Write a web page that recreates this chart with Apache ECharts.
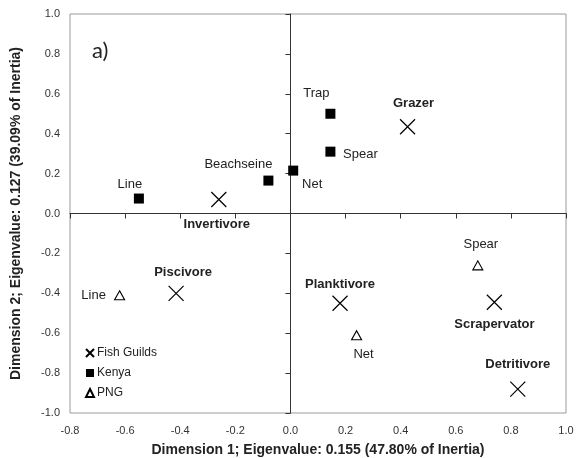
<!DOCTYPE html>
<html><head><meta charset="utf-8">
<script src="https://cdn.jsdelivr.net/npm/echarts@6/dist/echarts.min.js"></script>
<style>html,body{margin:0;padding:0;background:#fff}#c{width:579px;height:458px}</style>
</head><body><div id="c"></div>
<script>
// ---- data ----
const guildNames = ['Invertivore', 'Grazer', 'Piscivore', 'Planktivore', 'Scrapervator', 'Detritivore'];
const guildX = [-0.26, 0.425, -0.415, 0.18, 0.74, 0.825];
const guildY = [0.07, 0.435, -0.40, -0.45, -0.445, -0.88];

const kenyaNames = ['Line', 'Beachseine', 'Net', 'Trap', 'Spear'];
const kenyaX = [-0.55, -0.08, 0.01, 0.145, 0.145];
const kenyaY = [0.075, 0.165, 0.215, 0.50, 0.31];

const pngNames = ['Line', 'Spear', 'Net'];
const pngX = [-0.62, 0.68, 0.24];
const pngY = [-0.41, -0.26, -0.61];

const seriesNames = ['Fish Guilds', 'Kenya', 'PNG'];
const xTicks = [-0.8, -0.6, -0.4, -0.2, 0.0, 0.2, 0.4, 0.6, 0.8, 1.0];
const yTicks = [-1.0, -0.8, -0.6, -0.4, -0.2, 0.0, 0.2, 0.4, 0.6, 0.8, 1.0];
const xTitle = 'Dimension 1; Eigenvalue: 0.155 (47.80% of Inertia)';
const yTitle = 'Dimension 2; Eigenvalue: 0.127 (39.09% of Inertia)';
const panelLabel = 'a)';

// ---- label placement (styling) ----
const guildOffsets = [[-2, 25], [6, -23], [7, -21], [0, -19], [0, 22], [0, -25]];
const kenyaOffsets = [[-9, -14], [-30, -16], [19, 14], [-14, -20], [30, 3]];
const pngOffsets = [[-26, 0], [3, -21], [7, 19]];

const FONT = 'Liberation Sans, Arial, sans-serif';

function pts(names, xs, ys, offs, bold) {
  return names.map((n, i) => ({
    name: n,
    value: [xs[i], ys[i]],
    label: {
      show: true, position: 'inside', offset: offs[i], formatter: n,
      color: '#222', fontSize: 13, fontFamily: FONT,
      fontWeight: bold ? 'bold' : 'normal'
    }
  }));
}

const xMin = xTicks[0], xMax = xTicks[xTicks.length - 1];
const yMin = yTicks[0], yMax = yTicks[yTicks.length - 1];
const xStep = +(xTicks[1] - xTicks[0]).toFixed(3);
const yStep = +(yTicks[1] - yTicks[0]).toFixed(3);

const chart = echarts.init(document.getElementById('c'), null, { renderer: 'canvas' });
chart.setOption({
  animation: false,
  backgroundColor: '#fff',
  grid: { left: 70, right: 13, top: 14, bottom: 45, containLabel: false, outerBoundsMode: 'none',
          show: true, borderColor: '#9a9a9a', borderWidth: 1, backgroundColor: 'transparent' },
  graphic: [{
    type: 'text', left: 92, top: 40,
    style: { text: panelLabel, fontSize: 22, fontFamily: 'Lato, sans-serif', fill: '#222' }
  }],
  legend: {
    orient: 'vertical', left: 85, top: 347, padding: 0, itemGap: 8, itemWidth: 8, itemHeight: 8,
    textStyle: { fontSize: 12, color: '#222', fontFamily: FONT, padding: [0, 0, 0, -2] },
    data: seriesNames
  },
  xAxis: [{
    type: 'value', min: xMin, max: xMax, interval: xStep, position: 'bottom',
    axisLine: { show: false, onZero: false }, axisTick: { show: false }, splitLine: { show: false },
    axisLabel: { color: '#333', fontSize: 11, fontFamily: FONT, margin: 12, formatter: v => v.toFixed(1) },
    name: xTitle, nameLocation: 'middle', nameGap: 30,
    nameTextStyle: { fontSize: 14, fontWeight: 'bold', color: '#222', fontFamily: FONT }
  }, {
    type: 'value', min: xMin, max: xMax, interval: xStep, position: 'bottom',
    axisLine: { show: true, onZero: true, lineStyle: { color: '#333', width: 1 } },
    axisTick: { show: true, length: 5, lineStyle: { color: '#333' } },
    axisLabel: { show: false }, splitLine: { show: false }
  }],
  yAxis: [{
    type: 'value', min: yMin, max: yMax, interval: yStep, position: 'left',
    axisLine: { show: false, onZero: false }, axisTick: { show: false }, splitLine: { show: false },
    axisLabel: { color: '#333', fontSize: 11, fontFamily: FONT, margin: 10, formatter: v => v.toFixed(1) },
    name: yTitle, nameLocation: 'middle', nameGap: 47, nameRotate: 90,
    nameTextStyle: { fontSize: 14, fontWeight: 'bold', color: '#222', fontFamily: FONT }
  }, {
    type: 'value', min: yMin, max: yMax, interval: yStep, position: 'left',
    axisLine: { show: true, onZero: true, lineStyle: { color: '#333', width: 1 } },
    axisTick: { show: true, length: 5, lineStyle: { color: '#333' } },
    axisLabel: { show: false }, splitLine: { show: false }
  }],
  series: [{
    name: seriesNames[0], type: 'scatter', xAxisIndex: 0, yAxisIndex: 0,
    symbol: 'path://M0,0L10,10M10,0L0,10', symbolSize: 15,
    itemStyle: { color: 'rgba(0,0,0,0)', borderColor: '#000', borderWidth: 1.2, opacity: 1 },
    data: pts(guildNames, guildX, guildY, guildOffsets, true)
  }, {
    name: seriesNames[1], type: 'scatter', xAxisIndex: 0, yAxisIndex: 0,
    symbol: 'rect', symbolSize: 10,
    itemStyle: { color: '#000', opacity: 1 },
    data: pts(kenyaNames, kenyaX, kenyaY, kenyaOffsets, false)
  }, {
    name: seriesNames[2], type: 'scatter', xAxisIndex: 0, yAxisIndex: 0,
    symbol: 'triangle', symbolSize: [10, 9],
    itemStyle: { color: '#fff', borderColor: '#000', borderWidth: 1.1, opacity: 1 },
    data: pts(pngNames, pngX, pngY, pngOffsets, false)
  }]
});
</script>
</body></html>
